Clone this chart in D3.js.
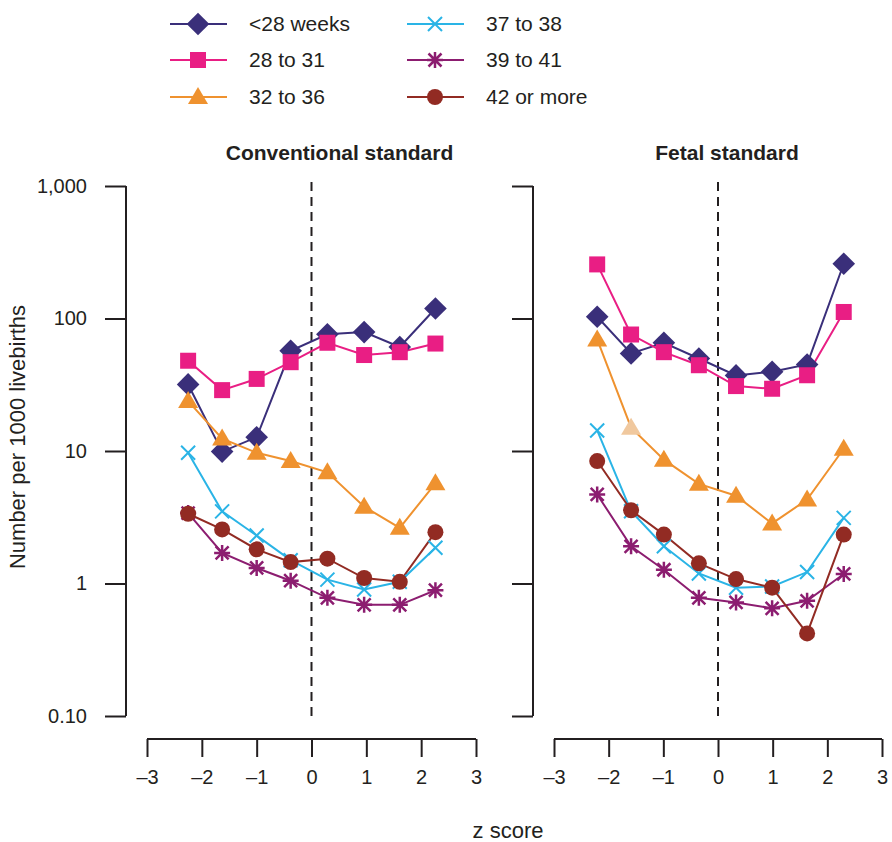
<!DOCTYPE html>
<html>
<head>
<meta charset="utf-8">
<script src="https://cdn.jsdelivr.net/npm/d3@7"></script>
<style>
  body { margin: 0; background: #fff; }
  text { font-family: "Liberation Sans", Arial, sans-serif; fill: #231f20; }
</style>
</head>
<body>
<svg id="chart" width="892" height="842"></svg>
<script>
// z score positions (category midpoints)
const zLeft = [-2.25, -1.63, -1.0, -0.38, 0.29, 0.96, 1.61, 2.26]
const zRight = [-2.21, -1.59, -0.99, -0.35, 0.33, 0.99, 1.63, 2.3]

const groups = ["<28 weeks", "28 to 31", "32 to 36", "37 to 38", "39 to 41", "42 or more"]
const colors = ["#3a2f7a", "#e91e84", "#ef922f", "#2ab4e6", "#8c1d70", "#922b23"]
const shapes = ["diamond", "square", "triangle", "cross", "asterisk", "circle"]

// Conventional standard values (per 1000 livebirths)
const conv28 = [31.8, 9.9, 12.7, 57, 76, 79, 61, 119]
const conv28to31 = [48, 28.8, 35, 46.8, 65.6, 53, 55.7, 64.7]
const conv32to36 = [23.8, 12.4, 9.7, 8.4, 6.9, 3.8, 2.63, 5.7]
const conv37to38 = [9.7, 3.5, 2.3, 1.5, 1.07, 0.9, 1.03, 1.86]
const conv39to41 = [3.4, 1.7, 1.31, 1.05, 0.78, 0.69, 0.69, 0.89]
const conv42plus = [3.36, 2.56, 1.81, 1.45, 1.54, 1.1, 1.03, 2.44]

// Fetal standard values
const fetal28 = [103, 54.5, 65.6, 49.9, 37.2, 39.6, 45, 259]
const fetal28to31 = [256, 75.7, 55.7, 44.4, 30.9, 29.5, 37.3, 112]
const fetal32to36 = [69.5, 15.0, 8.6, 5.65, 4.6, 2.84, 4.3, 10.4]
const fetal37to38 = [14.3, 3.51, 1.91, 1.19, 0.93, 0.95, 1.22, 3.13]
const fetal39to41 = [4.7, 1.91, 1.27, 0.78, 0.72, 0.65, 0.74, 1.18]
const fetal42plus = [8.4, 3.57, 2.34, 1.42, 1.08, 0.93, 0.42, 2.34]

const yTicks = [0.1, 1, 10, 100, 1000]
const yTickLabels = ["0.10", "1", "10", "100", "1,000"]
const xTicks = [-3, -2, -1, 0, 1, 2, 3]

const svg = d3.select("#chart")

const y = d3.scaleLog().domain([0.1, 1000]).range([716, 186])

const panels = [
  { title: "Conventional standard", z: zLeft, axisX: 126, range: [147, 476], labels: true,
    series: [conv28, conv28to31, conv32to36, conv37to38, conv39to41, conv42plus] },
  { title: "Fetal standard", z: zRight, axisX: 533, range: [554, 882], labels: false,
    series: [fetal28, fetal28to31, fetal32to36, fetal37to38, fetal39to41, fetal42plus] }
]

//* marker drawing
function drawMarker(g, shape, color, cx, cy, fill) {
  const f = fill || color
  if (shape === "diamond") {
    g.append("rect").attr("x", cx - 8).attr("y", cy - 8).attr("width", 16).attr("height", 16)
      .attr("fill", f).attr("transform", `rotate(45 ${cx} ${cy})`)
  } else if (shape === "square") {
    g.append("rect").attr("x", cx - 8).attr("y", cy - 8).attr("width", 16).attr("height", 16).attr("fill", f)
  } else if (shape === "triangle") {
    g.append("path").attr("d", `M${cx},${cy - 10}L${cx + 10},${cy + 7}L${cx - 10},${cy + 7}Z`).attr("fill", f)
  } else if (shape === "circle") {
    g.append("circle").attr("cx", cx).attr("cy", cy).attr("r", 8).attr("fill", f)
  } else if (shape === "cross") {
    const r = 7
    g.append("path").attr("d", `M${cx - r},${cy - r}L${cx + r},${cy + r}M${cx - r},${cy + r}L${cx + r},${cy - r}`)
      .attr("stroke", f).attr("stroke-width", 2).attr("fill", "none")
  } else if (shape === "asterisk") {
    const r = 8, d = 6.5
    g.append("path").attr("d", `M${cx - d},${cy - d}L${cx + d},${cy + d}M${cx - d},${cy + d}L${cx + d},${cy - d}M${cx},${cy - r}L${cx},${cy + r}M${cx - r},${cy}L${cx + r},${cy}`)
      .attr("stroke", f).attr("stroke-width", 2.5).attr("fill", "none")
  }
}

panels.forEach(p => {
  const x = d3.scaleLinear().domain([-3, 3]).range(p.range)
  const g = svg.append("g")

  // y axis
  const yAxis = g.append("g").attr("transform", `translate(${p.axisX},0)`)
    .call(d3.axisLeft(y).tickValues(yTicks).tickSize(21).tickPadding(18)
      .tickFormat((d, i) => p.labels ? yTickLabels[i] : ""))
  yAxis.select(".domain").remove()
  yAxis.append("line").attr("x1", 0).attr("x2", 0).attr("y1", y(1000)).attr("y2", y(0.1))
    .attr("stroke", "#231f20").attr("stroke-width", 2)
  yAxis.selectAll(".tick line").attr("stroke", "#231f20").attr("stroke-width", 2)
  yAxis.selectAll(".tick text").style("font-size", "20px").attr("fill", "#231f20")

  // x axis
  const xAxis = g.append("g").attr("transform", "translate(0,739)")
    .call(d3.axisBottom(x).tickValues(xTicks).tickSize(18).tickPadding(13)
      .tickFormat(d => d < 0 ? "\u2013" + Math.abs(d) : d))
  xAxis.select(".domain").remove()
  xAxis.append("line").attr("x1", p.range[0]).attr("x2", p.range[1]).attr("y1", 0).attr("y2", 0)
    .attr("stroke", "#231f20").attr("stroke-width", 2)
  xAxis.selectAll(".tick line").attr("stroke", "#231f20").attr("stroke-width", 2)
  xAxis.selectAll(".tick text").style("font-size", "20px").attr("fill", "#231f20")

  // dashed zero line
  g.append("line").attr("x1", x(0)).attr("x2", x(0)).attr("y1", 182).attr("y2", 716)
    .attr("stroke", "#231f20").attr("stroke-width", 2).attr("stroke-dasharray", "9,6")

  // title
  g.append("text").attr("x", (p.range[0] + p.range[1]) / 2 + (p.labels ? 28 : 9)).attr("y", 160)
    .attr("text-anchor", "middle").style("font-size", "21px").style("font-weight", "bold")
    .text(p.title)

  // series lines
  const line = d3.line().x((d, i) => x(p.z[i])).y(d => y(d))
  p.series.forEach((vals, si) => {
    g.append("path").datum(vals).attr("d", line)
      .attr("fill", "none").attr("stroke", colors[si]).attr("stroke-width", 2)
  })
  p.series.forEach((vals, si) => {
    const mg = g.append("g")
    vals.forEach((v, i) => {
      // one pale triangle in the fetal panel
      const fill = (!p.labels && si === 2 && i === 1) ? "#f0c89e" : null
      drawMarker(mg, shapes[si], colors[si], x(p.z[i]), y(v), fill)
    })
  })
})

// y axis label
svg.append("text").attr("transform", "translate(25,437) rotate(-90)")
  .attr("text-anchor", "middle").style("font-size", "22px").text("Number per 1000 livebirths")

// x axis label
svg.append("text").attr("x", 508).attr("y", 838).attr("text-anchor", "middle")
  .style("font-size", "22px").text("z score")

// legend
const legendPos = [[170, 24], [170, 60], [170, 97], [407, 24], [407, 60], [407, 97]]
groups.forEach((name, i) => {
  const [lx, ly] = legendPos[i]
  const lg = svg.append("g")
  lg.append("line").attr("x1", lx).attr("x2", lx + 57).attr("y1", ly).attr("y2", ly)
    .attr("stroke", colors[i]).attr("stroke-width", 2)
  drawMarker(lg, shapes[i], colors[i], lx + 28, ly)
  lg.append("text").attr("x", lx + 79).attr("y", ly + 7).style("font-size", "21px").text(name)
})
</script>
</body>
</html>
